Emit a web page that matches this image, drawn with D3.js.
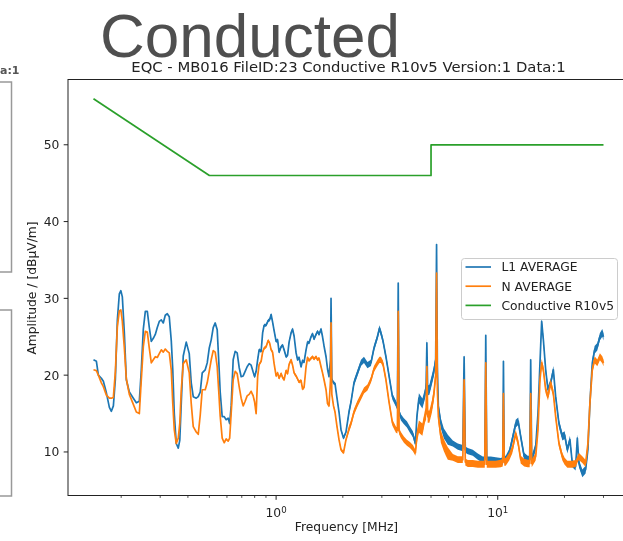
<!DOCTYPE html>
<html>
<head>
<meta charset="utf-8">
<script src="https://cdn.jsdelivr.net/npm/d3@7"></script>
<style>
  body { margin: 0; background: #fff; }
  text { font-family: "DejaVu Sans", sans-serif; fill: #222; }
</style>
</head>
<body>
<script>
const w = 623
const h = 541

// shared frequency grid of both measurements (MHz)
const freqMHz = [
  0.150, 0.1546, 0.1578, 0.1628, 0.1662, 0.1715, 0.1769, 0.1806, 0.1844, 0.1883,
  0.1922, 0.1962, 0.1993, 0.2024, 0.2067, 0.2110, 0.2177, 0.2269, 0.2341, 0.2415,
  0.2465, 0.2517, 0.2570, 0.2624, 0.2679, 0.2735, 0.2792, 0.2851, 0.2910, 0.2971,
  0.3034, 0.3097, 0.3162, 0.3229, 0.3296, 0.3365, 0.3418, 0.3472, 0.3544, 0.3619,
  0.3676, 0.3733, 0.3811, 0.3932, 0.4056, 0.4141, 0.4228, 0.4362, 0.4453, 0.4546,
  0.4642, 0.4788, 0.4889, 0.4991, 0.5096, 0.5203, 0.5312, 0.5423, 0.5508, 0.5594,
  0.5712, 0.5831, 0.5953, 0.6078, 0.6173, 0.6270, 0.6402, 0.6536, 0.6673, 0.6813,
  0.6956, 0.7102, 0.7250, 0.7402, 0.7558, 0.7716, 0.7878, 0.8001, 0.8127, 0.8254,
  0.8384, 0.8559, 0.8694, 0.8830, 0.9015, 0.9204, 0.9348, 0.9495, 0.9643, 0.9795,
  1.000, 1.0157, 1.0316, 1.0532, 1.0698, 1.0865, 1.1093, 1.1267, 1.1444, 1.1683,
  1.1867, 1.2053, 1.2306, 1.2499, 1.2695, 1.2961, 1.3164, 1.3371, 1.3651, 1.3865,
  1.4082, 1.4376, 1.4602, 1.4831, 1.5142, 1.5380, 1.5621, 1.5949, 1.6199, 1.6453,
  1.6798, 1.7062, 1.7329, 1.7601, 1.7693, 1.7840, 1.8157, 1.8442, 1.8828, 1.9223,
  1.9625, 2.0140, 2.0668, 2.1322, 2.1770, 2.2457, 2.3288, 2.4149, 2.4913, 2.5834,
  2.6790, 2.7637, 2.8660, 2.9260, 2.9718, 3.0340, 3.1300, 3.2290, 3.3483, 3.4722,
  3.5266, 3.5560, 3.5893, 3.6570, 3.7727, 3.8920, 4.0151, 4.1421, 4.2510, 4.3177,
  4.4082, 4.5711, 4.6911, 4.7499, 4.7894, 4.8292, 4.9152, 5.0443, 5.1501, 5.2472,
  5.2964, 5.3406, 5.3962, 5.5377, 5.7125, 5.8316, 5.9537, 6.2701, 6.6035, 6.9560,
  7.0505, 7.1388, 7.3260, 7.7160, 8.1267, 8.5593, 8.7387, 8.8300, 8.9220, 9.2995,
  9.7946, 10.316, 10.532, 10.609, 10.698, 10.865, 11.267, 11.623, 12.053, 12.370,
  12.695, 13.164, 13.651, 13.936, 14.082, 14.229, 14.831, 15.189, 15.507, 15.783,
  16.064, 16.453, 16.850, 17.329, 17.821, 18.252, 18.887, 19.564, 20.036, 20.605,
  21.168, 21.701, 22.457, 22.857, 23.240, 24.075, 24.913, 25.514, 26.049, 26.706,
  27.350, 28.127, 28.895, 29.622, 30.000
]

// L1 AVERAGE (dBuV/m)
const l1Average = [
  22.0, 21.8, 20.0, 19.6, 19.2, 17.7, 15.8, 15.3, 16.0, 19.5,
  27.2, 30.6, 31.0, 30.2, 25.5, 19.4, 17.8, 17.0, 16.4, 16.6,
  20.7, 26.0, 28.3, 28.3, 26.2, 24.4, 24.8, 25.3, 26.2, 27.0,
  27.2, 26.8, 27.8, 28.0, 27.6, 24.5, 20.7, 15.0, 11.1, 10.5,
  11.5, 16.3, 22.5, 24.3, 22.8, 19.0, 17.2, 17.0, 17.2, 17.8,
  20.3, 20.7, 21.6, 23.5, 24.6, 26.2, 26.8, 25.9, 22.0, 17.8,
  14.6, 14.6, 14.2, 14.4, 13.7, 16.0, 22.0, 23.1, 22.9, 21.0,
  19.8, 19.9, 20.5, 21.1, 21.5, 21.3, 20.4, 19.8, 20.5, 22.0,
  23.3, 23.1, 25.5, 26.5, 26.5, 27.1, 27.2, 27.9, 26.9, 25.8,
  24.4, 24.6, 23.0, 23.7, 23.9, 23.3, 22.4, 22.6, 24.3, 25.5,
  26.0, 25.1, 22.9, 22.0, 22.3, 21.1, 21.9, 21.7, 23.3, 24.3,
  24.2, 25.0, 25.4, 24.7, 25.3, 25.7, 25.3, 26.0, 25.0, 23.8,
  22.4, 20.8, 19.8, 22.0, 30.0, 19.5, 19.0, 18.9, 17.0, 15.2,
  12.9, 11.8, 12.6, 15.2, 16.5, 19.0, 20.3, 21.6, 22.0, 21.3,
  21.6, 23.5, 25.0, 26.1, 25.5, 24.5, 22.4, 20.0, 17.2, 16.3,
  15.8, 32.0, 15.2, 14.5, 14.0, 13.6, 12.9, 12.3, 11.1, 14.6,
  17.0, 16.3, 17.5, 18.5, 24.2, 18.0, 18.1, 19.4, 20.5, 22.0,
  37.0, 21.0, 15.9, 13.7, 12.4, 12.0, 11.6, 11.1, 10.7, 10.5,
  22.4, 10.3, 10.1, 9.9, 9.4, 9.0, 9.0, 25.2, 9.0, 9.0,
  8.9, 8.7, 8.8, 21.8, 9.0, 9.0, 9.9, 11.6, 13.7, 14.0,
  12.0, 9.4, 9.0, 9.0, 22.0, 9.0, 10.7, 15.0, 21.6, 27.0,
  24.6, 20.7, 18.1, 19.0, 20.7, 17.2, 13.7, 12.0, 12.2, 10.3,
  11.6, 8.5, 8.1, 11.8, 8.5, 7.2, 7.7, 10.3, 16.3, 21.6,
  23.3, 23.7, 25.0, 25.5, 25.0
]

// N AVERAGE (dBuV/m)
const nAverage = [
  20.7, 20.6, 20.0, 19.0, 18.5, 17.4, 17.0, 17.0, 17.1, 20.5,
  26.3, 28.4, 28.5, 27.0, 23.5, 19.5, 17.5, 16.2, 15.2, 15.0,
  19.4, 23.7, 25.7, 25.6, 23.5, 21.6, 22.0, 22.4, 22.3, 22.8,
  23.3, 23.0, 23.4, 23.1, 22.9, 20.7, 16.3, 12.9, 11.1, 11.8,
  13.7, 18.0, 21.5, 22.0, 20.3, 16.3, 13.3, 12.6, 12.3, 14.8,
  18.1, 18.1, 19.0, 20.5, 22.0, 23.2, 23.0, 21.1, 18.0, 14.7,
  11.8, 11.2, 11.7, 11.4, 11.8, 15.0, 19.4, 20.5, 20.2, 18.5,
  17.0, 16.0, 16.6, 17.3, 17.5, 17.9, 17.3, 16.5, 15.0, 19.8,
  21.4, 21.8, 23.0, 23.5, 23.7, 24.5, 24.2, 23.3, 23.0, 21.5,
  19.9, 20.3, 19.6, 20.2, 19.7, 19.4, 20.6, 20.2, 21.4, 22.0,
  21.3, 20.3, 19.9, 19.5, 19.1, 19.3, 18.2, 18.4, 21.1, 22.3,
  21.9, 22.2, 22.4, 22.1, 22.4, 22.0, 22.2, 21.1, 20.3, 19.4,
  18.1, 16.3, 16.0, 19.4, 26.8, 17.5, 16.0, 15.2, 13.3, 11.6,
  10.3, 9.9, 11.6, 13.0, 13.7, 15.2, 16.3, 17.2, 18.0, 18.4,
  19.4, 20.8, 21.6, 22.0, 22.0, 21.5, 19.4, 16.6, 13.8, 12.9,
  12.8, 28.3, 12.7, 12.2, 11.6, 11.2, 10.9, 10.5, 9.9, 12.0,
  13.3, 12.9, 14.6, 15.0, 21.1, 14.6, 14.6, 15.9, 17.5, 20.0,
  33.3, 18.0, 14.6, 12.0, 10.9, 10.3, 9.8, 9.3, 9.0, 9.0,
  19.4, 8.7, 8.5, 8.5, 8.4, 8.4, 8.4, 21.6, 8.4, 8.4,
  8.4, 8.5, 8.6, 17.6, 8.7, 8.7, 9.4, 10.3, 12.4, 11.1,
  9.0, 8.6, 8.5, 8.5, 17.6, 8.5, 9.4, 12.9, 19.4, 21.6,
  20.7, 18.1, 17.2, 19.0, 17.6, 14.6, 11.1, 9.4, 8.8, 8.4,
  8.4, 8.4, 8.5, 9.0, 9.4, 9.0, 8.5, 11.1, 16.3, 20.7,
  22.0, 21.6, 22.4, 22.0, 21.6
]

// half-width of the noise band seen round each trace (dB), per frequency stretch
const bandFrom = [0.78, 2.1, 4.3, 6.0, 10.0, 20.0]
const bandTo = [2.1, 4.3, 6.0, 10.0, 20.0, 30.01]
const l1Spread = [0.2, 0.4, 0.65, 0.4, 0.5, 0.5]
const nSpread = [0.2, 0.4, 0.8, 0.45, 0.5, 0.45]

// Conductive R10v5 limit
const limitFreq = [0.15, 0.5, 5, 5, 30]
const limitLevel = [56, 46, 46, 50, 50]

const yTicks = [10, 20, 30, 40, 50]
const xMajor = [1, 10]
const xMinor = [0.2, 0.3, 0.4, 0.5, 0.6, 0.7, 0.8, 0.9, 2, 3, 4, 5, 6, 7, 8, 9, 20, 30]

const seriesNames = ["L1 AVERAGE", "N AVERAGE", "Conductive R10v5"]
const colors = ["#1f77b4", "#ff7f0e", "#2ca02c"]

let plot = { left: 68, top: 79.5, right: 629, bottom: 495.5 }

const svg = d3.select('body')
    .append('svg')
    .attr('width', w)
    .attr('height', h)

// the reference is a slightly soft screenshot
const defs = svg.append("defs")
defs.append("filter").attr("id", "soft")
    .append("feGaussianBlur").attr("stdDeviation", 0.35)

const root = svg.append("g").attr("filter", "url(#soft)")

const x = d3.scaleLog().domain([0.1151, 39.1]).range([plot.left, plot.right])
const y = d3.scaleLinear().domain([4.33, 58.5]).range([plot.bottom, plot.top])

// bits of the neighbouring panel that show on the left edge
root.append("text")
    .attr("x", 0)
    .attr("y", 74)
    .attr("font-size", "11px")
    .style("fill", "#555")
    .style("font-weight", "bold")
    .text("a:1")
root.append("rect")
    .attr("x", -6).attr("y", 82)
    .attr("width", 17.5).attr("height", 190)
    .attr("fill", "none").attr("stroke", "#999").attr("stroke-width", 1.5)
root.append("rect")
    .attr("x", -6).attr("y", 310)
    .attr("width", 17.5).attr("height", 186)
    .attr("fill", "none").attr("stroke", "#999").attr("stroke-width", 1.5)

// big heading
root.append("text")
    .attr("x", 100)
    .attr("y", 57)
    .attr("font-size", "62px")
    .style("font-family", "'Liberation Sans', Arial, sans-serif")
    .style("fill", "#505050")
    .text("Conducted")

// chart title
root.append("text")
    .attr("x", (plot.left + plot.right) / 2)
    .attr("y", 72)
    .attr("text-anchor", "middle")
    .attr("font-size", "14.8px")
    .text("EQC - MB016 FileID:23 Conductive R10v5 Version:1 Data:1")

// lines, clipped to the axes
defs.append("clipPath").attr("id", "clip")
    .append("rect")
    .attr("x", plot.left).attr("y", plot.top)
    .attr("width", plot.right - plot.left).attr("height", plot.bottom - plot.top)

const line = d3.line()
    .x(d => x(d.f))
    .y(d => y(d.v))

const band = d3.area()
    .defined(d => d.s > 0)
    .x(d => x(d.f))
    .y0(d => y(d.v - d.s))
    .y1(d => y(d.v + d.s))

const spreadAt = (f, spreads) => {
    const k = bandFrom.findIndex((b, i) => f >= b && f < bandTo[i])
    return k < 0 ? 0 : spreads[k]
}

const series = [
    freqMHz.map((f, i) => ({ f: f, v: l1Average[i], s: spreadAt(f, l1Spread) })),
    freqMHz.map((f, i) => ({ f: f, v: nAverage[i], s: spreadAt(f, nSpread) })),
    limitFreq.map((f, i) => ({ f: f, v: limitLevel[i], s: 0 }))
]

const g = root.append("g").attr("clip-path", "url(#clip)")
series.forEach((s, i) => {
    g.append("path")
        .datum(s)
        .attr("d", band)
        .attr("fill", colors[i])
        .attr("stroke", "none")
    g.append("path")
        .datum(s)
        .attr("d", line)
        .attr("fill", "none")
        .attr("stroke", colors[i])
        .attr("stroke-width", 1.7)
        .attr("stroke-linejoin", "round")
})

// spines
root.append("rect")
    .attr("x", plot.left).attr("y", plot.top)
    .attr("width", plot.right - plot.left).attr("height", plot.bottom - plot.top)
    .attr("fill", "none").attr("stroke", "#222").attr("stroke-width", 1)

// y axis
yTicks.forEach(t => {
    root.append("line")
        .attr("x1", plot.left - 4.3).attr("x2", plot.left)
        .attr("y1", y(t)).attr("y2", y(t))
        .attr("stroke", "#222")
    root.append("text")
        .attr("x", plot.left - 8.6)
        .attr("y", y(t))
        .attr("dy", "0.36em")
        .attr("text-anchor", "end")
        .attr("font-size", "12.3px")
        .text(t)
})

// x axis: majors with 10^n labels, then minors
xMajor.forEach(t => {
    root.append("line")
        .attr("x1", x(t)).attr("x2", x(t))
        .attr("y1", plot.bottom).attr("y2", plot.bottom + 4.3)
        .attr("stroke", "#222")
    const lab = root.append("text")
        .attr("x", x(t))
        .attr("y", 516.5)
        .attr("text-anchor", "middle")
        .attr("font-size", "12.3px")
    lab.append("tspan").text("10")
    lab.append("tspan")
        .attr("dy", "-0.45em")
        .attr("font-size", "8.6px")
        .text(Math.round(Math.log10(t)))
})
xMinor.forEach(t => {
    root.append("line")
        .attr("x1", x(t)).attr("x2", x(t))
        .attr("y1", plot.bottom).attr("y2", plot.bottom + 2.4)
        .attr("stroke", "#222")
        .attr("stroke-width", 0.8)
})

// axis labels
root.append("text")
    .attr("x", (plot.left + plot.right) / 2 - 2)
    .attr("y", 530.5)
    .attr("text-anchor", "middle")
    .attr("font-size", "12.3px")
    .text("Frequency [MHz]")

root.append("text")
    .attr("transform", "translate(32,288) rotate(-90)")
    .attr("dy", "0.36em")
    .attr("text-anchor", "middle")
    .attr("font-size", "12.3px")
    .text("Amplitude / [dBµV/m]")

// legend
const legend = root.append("g").attr("transform", "translate(461.5,258.5)")
legend.append("rect")
    .attr("width", 156).attr("height", 61).attr("rx", 3)
    .attr("fill", "#fff").attr("fill-opacity", 0.8)
    .attr("stroke", "#ccc")
seriesNames.forEach((name, i) => {
    const yy = 8.5 + i * 19.2
    legend.append("line")
        .attr("x1", 4).attr("x2", 29.5)
        .attr("y1", yy).attr("y2", yy)
        .attr("stroke", colors[i]).attr("stroke-width", 1.7)
    legend.append("text")
        .attr("x", 40)
        .attr("y", yy)
        .attr("dy", "0.36em")
        .attr("font-size", "12.3px")
        .text(name)
})
</script>
</body>
</html>
